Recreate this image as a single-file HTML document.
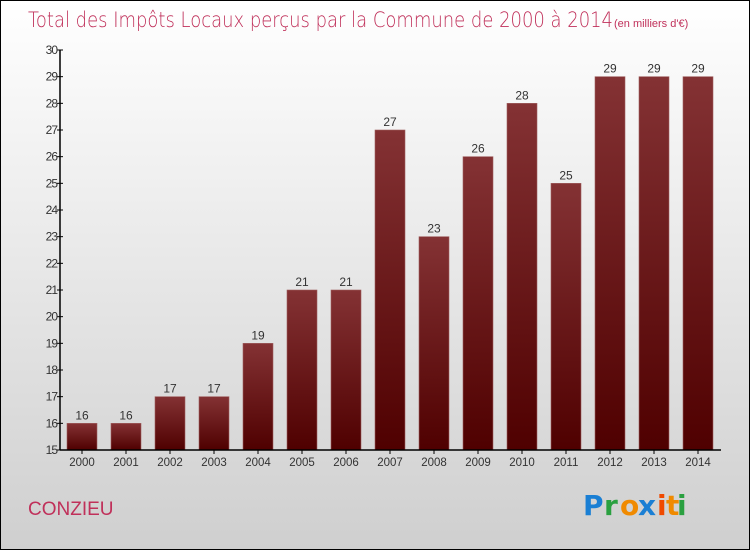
<!DOCTYPE html>
<html><head><meta charset="utf-8"><style>
html,body{margin:0;padding:0}
body{width:750px;height:550px;overflow:hidden;font-family:"Liberation Sans",sans-serif}
#wrap{position:absolute;left:0;top:0;width:748px;height:548px;border:1px solid #000;background:linear-gradient(#ffffff,#cfcfcf)}
</style></head><body>
<div id="wrap">
<svg width="748" height="548" viewBox="1 1 748 548" style="position:absolute;left:0;top:0">
<defs><linearGradient id="bg" x1="0" y1="0" x2="0" y2="1"><stop offset="0" stop-color="#843234"/><stop offset="1" stop-color="#4f0000"/></linearGradient></defs>
<text x="28" y="27" font-size="21" fill="#c0305a" style="font-family:'DejaVu Sans',sans-serif;font-weight:200" textLength="585" lengthAdjust="spacingAndGlyphs">Total des Impôts Locaux perçus par la Commune de 2000 à 2014</text>
<text x="614" y="27" font-size="11" fill="#c0305a">(en milliers d'€)</text>
<g id="plot"></g>
<text x="28" y="515" font-size="19" fill="#c0305a">CONZIEU</text>
<g font-size="28" font-weight="bold" font-family="'DejaVu Sans',sans-serif">
<text x="583" y="515" fill="#1a7fd4">P</text><text x="604" y="515" fill="#2aa040">r</text><text x="620" y="515" fill="#f08a00">o</text><text x="638" y="515" fill="#1a7fd4">x</text><text x="657" y="515" fill="#f04a00">i</text><text x="666" y="515" fill="#f08a00">t</text><text x="677" y="515" fill="#2aa040">i</text>
</g>
</svg>
</div>
<script>
const years=["2000","2001","2002","2003","2004","2005","2006","2007","2008","2009","2010","2011","2012","2013","2014"];
const values=[16,16,17,17,19,21,21,27,23,26,28,25,29,29,29];
const yTicks=[15,16,17,18,19,20,21,22,23,24,25,26,27,28,29,30];
const NS="http://www.w3.org/2000/svg";
const g=document.getElementById('plot');
const x0=60,step=44,yMin=15,yMax=30,yBot=450,yTop=50;
const y=v=>yBot-(v-yMin)/(yMax-yMin)*(yBot-yTop);
function mk(t,a,txt){const e=document.createElementNS(NS,t);for(const k in a)e.setAttribute(k,a[k]);if(txt!=null)e.textContent=txt;g.appendChild(e);return e;}
values.forEach((v,i)=>{
 const r=mk('rect',{x:x0+i*step+7,y:y(v),width:30,height:yBot-y(v),fill:'url(#bg)',stroke:'#a06060','stroke-width':0.6});
 
 
 const t=mk('text',{x:x0+i*step+22,y:y(v)-4,'text-anchor':'middle','font-size':12,fill:'#333'},String(v));
 
 
 const xl=mk('text',{x:x0+i*step+22,y:466,'text-anchor':'middle','font-size':11.5,fill:'#333'},years[i]);
 
 
 mk('line',{x1:x0+i*step+22,x2:x0+i*step+22,y1:450,y2:454,stroke:'#000'});
});
yTicks.forEach(v=>{
 mk('line',{x1:57,x2:63,y1:y(v),y2:y(v),stroke:'#000'});
 const t=mk('text',{x:57,y:y(v)+4,'text-anchor':'end','font-size':12,fill:'#333','letter-spacing':'-1'},String(v));
 
 
});
const ya=mk('line',{x1:60,x2:60,y1:50,y2:450,stroke:'#000','stroke-width':1.5});


const xa=mk('line',{x1:60,x2:721,y1:450,y2:450,stroke:'#000','stroke-width':1.5});


</script>
</body></html>
